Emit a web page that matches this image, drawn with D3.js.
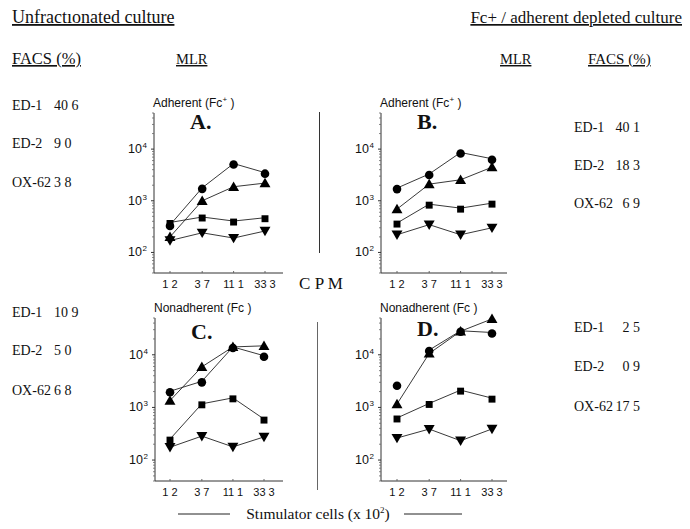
<!DOCTYPE html>
<html>
<head>
<meta charset="utf-8">
<script src="https://cdn.jsdelivr.net/npm/d3@7"></script>
<style>
  html, body { margin: 0; padding: 0; background: #fff; }
  svg { display: block; }
  .serif { font-family: "Liberation Serif", "Times New Roman", serif; fill: #111; }
  .sans { font-family: "Liberation Sans", Arial, sans-serif; fill: #111; }
</style>
</head>
<body>
<svg id="chart" width="690" height="529"></svg>
<script>
// Stimulator cell doses (x 10^2) and their printed labels
const doses = [1.2, 3.7, 11.1, 33.3];
const doseLabels = ["1 2", "3 7", "11 1", "33 3"];
const yTickValues = [1e2, 1e3, 1e4];

// MLR responses (CPM), unfractionated culture, adherent (Fc+) stimulators
const aCircle   = [340, 1780, 5250, 3500];
const aTriangle = [200, 1000, 1870, 2200];
const aSquare   = [380, 485, 405, 470];
const aInvTri   = [170, 240, 190, 260];

// Fc+/adherent depleted culture, adherent (Fc+) stimulators
const bCircle   = [1760, 3300, 8600, 6500];
const bTriangle = [690, 2100, 2550, 4470];
const bSquare   = [370, 860, 720, 900];
const bInvTri   = [220, 345, 220, 300];

// Unfractionated culture, nonadherent (Fc-) stimulators
const cCircle   = [2030, 3130, 14100, 9600];
const cTriangle = [1350, 5900, 14100, 14800];
const cSquare   = [250, 1170, 1520, 600];
const cInvTri   = [175, 285, 178, 275];

// Fc+/adherent depleted culture, nonadherent (Fc-) stimulators
const dCircle   = [2700, 12300, 28600, 26500];
const dTriangle = [1160, 10600, 28000, 48000];
const dSquare   = [630, 1190, 2130, 1500];
const dInvTri   = [262, 388, 233, 390];

// FACS phenotype percentages
const facsMarkers = ["ED-1", "ED-2", "OX-62"];
const facsUnfracAdh = ["40 6", "9 0", "3 8"];
const facsUnfracNon = ["10 9", "5 0", "6 8"];
const facsDeplAdh   = ["40 1", "18 3", "6 9"];
const facsDeplNon   = ["2 5", "0 9", "17 5"];

const svg = d3.select("#chart");

// ---------- headings ----------
function txt(x, y, s, cls, size, anchor) {
  return svg.append("text").attr("class", cls).attr("x", x).attr("y", y)
    .attr("font-size", size).attr("text-anchor", anchor || "start").text(s);
}
txt(12, 23, "Unfractıonated culture", "serif", 18).attr("text-decoration", "underline");
txt(682, 23, "Fc+ / adherent  depleted culture", "serif", 17, "end").attr("text-decoration", "underline");
txt(12, 64, "FACS (%)", "serif", 16.5).attr("text-decoration", "underline");
txt(176, 64, "MLR", "serif", 14.5).attr("text-decoration", "underline");
txt(500, 64, "MLR", "serif", 14.5).attr("text-decoration", "underline");
txt(588, 64, "FACS (%)", "serif", 15).attr("text-decoration", "underline");

// ---------- FACS columns ----------
function facsBlock(x, xNum, anchorNum, ys, values) {
  facsMarkers.forEach((m, i) => {
    txt(x, ys[i], m, "serif", 14);
    txt(xNum, ys[i], values[i], "serif", 14, anchorNum);
  });
}
facsBlock(12, 54, "start", [110, 148, 187], facsUnfracAdh);
facsBlock(12, 54, "start", [317, 355, 395], facsUnfracNon);
facsBlock(574, 640, "end", [132, 170, 208], facsDeplAdh);
facsBlock(574, 640, "end", [332, 371, 411], facsDeplNon);

// ---------- panels ----------
const panels = [
  { id: "A.", title: "Adherent (Fc", sup: "+", x0: 154, x1: 283, y0: 113, y1: 273, p0: 170, p1: 265, idDy: 16,
    series: { circle: aCircle, triangle: aTriangle, square: aSquare, inv: aInvTri } },
  { id: "B.", title: "Adherent (Fc", sup: "+", x0: 381, x1: 507, y0: 113, y1: 273, p0: 397, p1: 492, idDy: 16,
    series: { circle: bCircle, triangle: bTriangle, square: bSquare, inv: bInvTri } },
  { id: "C.", title: "Nonadherent (Fc )", sup: null, x0: 155, x1: 283, y0: 318, y1: 481, p0: 170, p1: 264, idDy: 21,
    series: { circle: cCircle, triangle: cTriangle, square: cSquare, inv: cInvTri } },
  { id: "D.", title: "Nonadherent (Fc )", sup: null, x0: 381, x1: 507, y0: 318, y1: 481, p0: 397, p1: 492, idDy: 18,
    series: { circle: dCircle, triangle: dTriangle, square: dSquare, inv: dInvTri },
    circleLineFrom: 1 }
];

const symbolFor = {
  circle:   { type: d3.symbolCircle,   size: 58, rot: 0 },
  triangle: { type: d3.symbolTriangle, size: 52, rot: 0 },
  square:   { type: d3.symbolSquare,   size: 48, rot: 0 },
  inv:      { type: d3.symbolTriangle, size: 52, rot: 180 }
};

panels.forEach(p => {
  const g = svg.append("g");
  const x = d3.scaleLog().domain([doses[0], doses[3]]).range([p.p0, p.p1]);
  const y = d3.scaleLog().domain([40, 50000]).range([p.y1, p.y0]);

  // axis frame (left + bottom)
  g.append("line").attr("x1", p.x0).attr("x2", p.x0).attr("y1", p.y0).attr("y2", p.y1)
    .attr("stroke", "#333").attr("stroke-width", 1);
  g.append("line").attr("x1", p.x0).attr("x2", p.x1).attr("y1", p.y1).attr("y2", p.y1)
    .attr("stroke", "#333").attr("stroke-width", 1);

  // minor log ticks on the y axis
  const minor = [];
  for (let e = 1; e <= 4; e++) for (let k = 2; k <= 9; k++) {
    const v = k * Math.pow(10, e);
    if (v >= 40 && v <= 50000) minor.push(v);
  }
  g.selectAll("line.minor").data(minor).join("line").attr("class", "minor")
    .attr("x1", p.x0).attr("x2", p.x0 - 2)
    .attr("y1", d => y(d)).attr("y2", d => y(d))
    .attr("stroke", "#666").attr("stroke-width", 0.8);
  g.selectAll("line.major").data(yTickValues).join("line").attr("class", "major")
    .attr("x1", p.x0).attr("x2", p.x0 - 3)
    .attr("y1", d => y(d)).attr("y2", d => y(d))
    .attr("stroke", "#333");

  // y tick labels 10^n
  yTickValues.forEach(v => {
    g.append("text").attr("class", "sans").attr("font-size", 12.5)
      .attr("x", p.x0 - 12).attr("y", y(v) + 4).attr("text-anchor", "end").text("10");
    g.append("text").attr("class", "sans").attr("font-size", 8)
      .attr("x", p.x0 - 11.5).attr("y", y(v) - 1).text(String(Math.round(Math.log10(v))));
  });

  // minor x ticks
  g.selectAll("line.xt").data(doses).join("line").attr("class", "xt")
    .attr("x1", d => x(d)).attr("x2", d => x(d)).attr("y1", p.y1).attr("y2", p.y1 - 2)
    .attr("stroke", "#666");

  // x tick labels
  g.selectAll("text.xl").data(doses).join("text").attr("class", "sans xl")
    .attr("font-size", 11).attr("text-anchor", "middle")
    .attr("x", d => x(d)).attr("y", p.y1 + 15)
    .text((d, i) => doseLabels[i]);

  // panel title
  const tt = g.append("text").attr("class", "sans").attr("font-size", 12)
    .attr("x", p.x0 - 1).attr("y", p.y0 - 6).text(p.title);
  if (p.sup) {
    tt.append("tspan").attr("font-size", 8).attr("dy", -5).text(p.sup);
    tt.append("tspan").attr("font-size", 12).attr("dy", 5).text(" )");
  }
  g.append("text").attr("class", "serif").attr("font-size", 22).attr("font-weight", "bold")
    .attr("x", p.x0 + 36).attr("y", p.y0 + p.idDy).text(p.id);

  // series lines and markers
  const line = d3.line().x(d => x(d.dose)).y(d => y(d.v));
  ["inv", "square", "triangle", "circle"].forEach(key => {
    const pts = p.series[key].map((v, i) => ({ dose: doses[i], v }));
    const from = (key === "circle" && p.circleLineFrom) ? p.circleLineFrom : 0;
    g.append("path").attr("d", line(pts.slice(from)))
      .attr("fill", "none").attr("stroke", "#222").attr("stroke-width", 0.9);
  });
  ["inv", "square", "triangle", "circle"].forEach(key => {
    const s = symbolFor[key];
    const pts = p.series[key].map((v, i) => ({ dose: doses[i], v }));
    g.selectAll("path.m-" + key).data(pts).join("path").attr("class", "m-" + key)
      .attr("d", d3.symbol().type(s.type).size(s.size))
      .attr("transform", d => `translate(${x(d.dose)},${y(d.v) + (s.rot ? -1 : 1)}) rotate(${s.rot})`)
      .attr("fill", "#000");
  });
});

// centre divider and CPM label
svg.append("line").attr("x1", 319.5).attr("x2", 319.5).attr("y1", 112).attr("y2", 253)
  .attr("stroke", "#333").attr("stroke-width", 1);
svg.append("line").attr("x1", 317.5).attr("x2", 317.5).attr("y1", 322).attr("y2", 490)
  .attr("stroke", "#666").attr("stroke-width", 1);
txt(321, 289, "C P M", "serif", 17, "middle");

// shared x label
svg.append("line").attr("x1", 178).attr("x2", 230).attr("y1", 514).attr("y2", 514).attr("stroke", "#222");
svg.append("line").attr("x1", 404).attr("x2", 462).attr("y1", 514).attr("y2", 514).attr("stroke", "#222");
const xl = txt(318, 519, "Stımulator cells  (x 10", "serif", 15.5, "middle");
xl.append("tspan").attr("font-size", 9).attr("dy", -6).text("2");
xl.append("tspan").attr("dy", 6).text(")");
</script>
</body>
</html>
